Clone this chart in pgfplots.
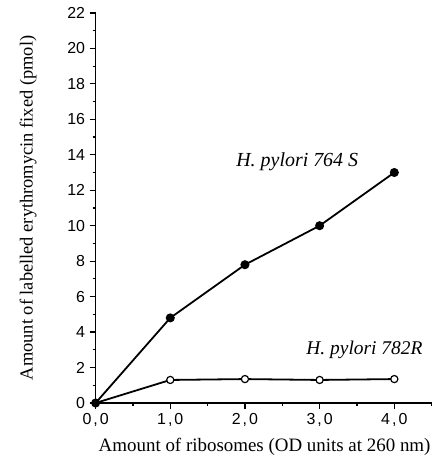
\documentclass[border=0pt]{standalone}
\usepackage{fontspec}
\setmainfont{Liberation Serif}
\setsansfont{Liberation Sans}
\usepackage{pgfplots}
\pgfplotsset{compat=1.18}

\begin{document}
\begin{tikzpicture}
  \begin{axis}[
    scale only axis,
    width=336bp, height=390bp,
    xmin=0, xmax=4.5,
    ymin=0, ymax=22,
    axis lines=left,
    axis line style={line width=1.6pt, -},
    xtick={0,1,2,3,4},
    xticklabels={{0\kern2pt,\kern2pt0}, {1\kern2pt,\kern2pt0}, {2\kern2pt,\kern2pt0}, {3\kern2pt,\kern2pt0}, {4\kern2pt,\kern2pt0}},
    minor xtick={0.5,1.5,2.5,3.5,4.5},
    ytick={0,2,...,22},
    minor y tick num=1,
    tick align=outside,
    major tick length=6bp,
    minor tick length=3bp,
    tick style={line width=1.2pt, black},
    /pgf/number format/assume math mode=true,
    tick label style={font=\sffamily\fontsize{16}{16}\selectfont},
    yticklabel style={xshift=-1pt},
    xticklabel style={yshift=-1pt},
    xlabel={Amount of ribosomes (OD units at 260 nm)},
    ylabel={Amount of labelled erythromycin fixed (pmol)},
    xlabel style={font=\fontsize{19}{19}\selectfont, yshift=-5pt, xshift=1pt},
    ylabel style={font=\fontsize{18.5}{18.5}\selectfont, yshift=24pt},
    clip=false,
  ]
    \addplot[black, line width=1.8pt, mark=*, mark size=3.6pt]
      coordinates {(0,0) (1,4.8) (2,7.8) (3,10) (4,13)};
    \addplot[black, line width=1.8pt, mark=*, mark size=3.6pt,
      mark options={fill=white, line width=1.2pt}]
      coordinates {(1,1.3) (2,1.35) (3,1.3) (4,1.35)};
    \addplot[black, line width=1.8pt] coordinates {(0,0) (1,1.3)};
    \node[font=\itshape\fontsize{20}{20}\selectfont] at (axis cs:2.7,13.6) {H. pylori 764 S};
    \node[font=\itshape\fontsize{19.5}{19.5}\selectfont] at (axis cs:3.6,3.0) {H. pylori 782R};
    \path (axis cs:-1.28,-3.44) rectangle (axis cs:4.51,22.73);
  \end{axis}
\end{tikzpicture}
\end{document}
